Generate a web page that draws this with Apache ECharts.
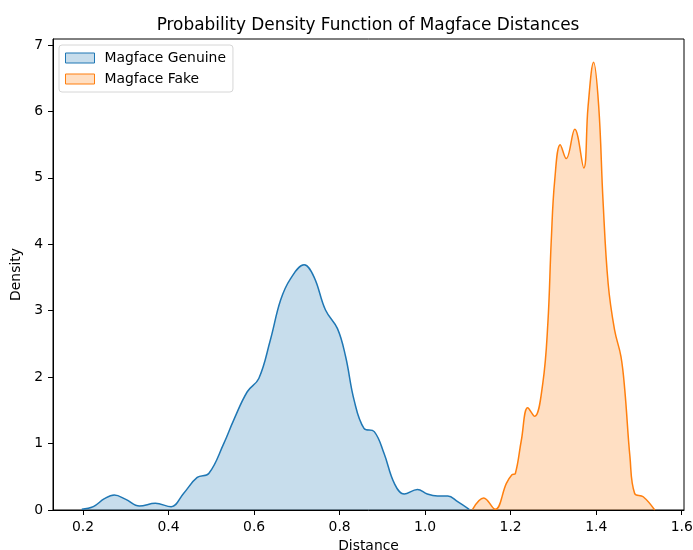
<!DOCTYPE html>
<html>
<head>
<meta charset="utf-8">
<title>Magface Distances</title>
<script src="https://cdn.jsdelivr.net/npm/echarts@6/dist/echarts.min.js"></script>
<style>
	html, body { margin: 0; padding: 0; background: #fff; }
	#main { width: 693px; height: 550px; }
</style>
</head>
<body>
<div id="main"></div>
<script>
// 数据: 密度曲线
var genuineX = [0.197, 0.224, 0.250, 0.273, 0.300, 0.332, 0.369, 0.406, 0.435, 0.467, 0.494, 0.529, 0.552, 0.584, 0.611, 0.638, 0.662, 0.685, 0.717, 0.740, 0.767, 0.795, 0.814, 0.834, 0.857, 0.881, 0.904, 0.928, 0.951, 0.982, 1.005, 1.029, 1.053, 1.076, 1.103];
var genuineY = [0.01, 0.05, 0.17, 0.225, 0.16, 0.06, 0.10, 0.05, 0.25, 0.49, 0.55, 1.00, 1.35, 1.78, 1.98, 2.56, 3.16, 3.48, 3.69, 3.51, 3.01, 2.73, 2.31, 1.65, 1.23, 1.18, 0.85, 0.40, 0.24, 0.31, 0.24, 0.21, 0.21, 0.125, 0.01];

var fakeX = [1.111, 1.137, 1.164, 1.190, 1.203, 1.211, 1.225, 1.240, 1.256, 1.275, 1.287, 1.295, 1.303, 1.316, 1.330, 1.350, 1.371, 1.381, 1.394, 1.406, 1.416, 1.428, 1.443, 1.458, 1.467, 1.479, 1.490, 1.510, 1.537];
var fakeY = [0.01, 0.18, 0.01, 0.40, 0.53, 0.55, 1.05, 1.54, 1.41, 1.90, 2.81, 4.06, 4.96, 5.50, 5.29, 5.73, 5.15, 6.07, 6.74, 6.07, 4.66, 3.41, 2.71, 2.31, 1.80, 0.80, 0.25, 0.20, 0.0];

var xTicks = [0.2, 0.4, 0.6, 0.8, 1.0, 1.2, 1.4, 1.6];
var yTicks = [0, 1, 2, 3, 4, 5, 6, 7];

var seriesNames = ['Magface Genuine', 'Magface Fake'];

// 组合成 [x, y] 点
function toPoints(xs, ys) {
	var result = [];
	for (var i = 0; i < xs.length; i++) {
		result.push([xs[i], ys[i]]);
	}
	return result;
}

var FONT = 'DejaVu Sans';
var chart = echarts.init(document.getElementById('main'), null, { renderer: 'canvas' });

var option = {
	animation: false,
	backgroundColor: '#fff',
	textStyle: { fontFamily: FONT },
	title: {
		text: 'Probability Density Function of Magface Distances',
		left: 363,
		textAlign: 'center',
		top: 12,
		textStyle: { fontFamily: FONT, fontSize: 16.9, fontWeight: 'normal', color: '#000' }
	},
	legend: {
		left: 59,
		top: 45,
		orient: 'vertical',
		itemWidth: 29,
		itemHeight: 10,
		itemGap: 7,
		padding: [6, 7, 6, 6],
		backgroundColor: 'rgba(255,255,255,0.8)',
		borderColor: '#d6d6d6',
		borderWidth: 1,
		borderRadius: 3,
		textStyle: { fontFamily: FONT, fontSize: 13.9, color: '#000', padding: [0, 0, 0, 5] },
		data: [
			{ name: seriesNames[0], icon: 'rect', itemStyle: { color: 'rgba(31,119,180,0.25)', borderColor: '#1f77b4', borderWidth: 1 } },
			{ name: seriesNames[1], icon: 'rect', itemStyle: { color: 'rgba(255,127,14,0.25)', borderColor: '#ff7f0e', borderWidth: 1 } }
		]
	},
	grid: {
		left: 53,
		right: 9,
		top: 39,
		bottom: 40,
		show: true,
		borderColor: '#000',
		borderWidth: 1,
		containLabel: false,
		outerBoundsMode: 'none'
	},
	xAxis: {
		type: 'value',
		min: 0.1297,
		max: 1.6054,
		name: 'Distance',
		nameLocation: 'middle',
		nameGap: 28,
		nameTextStyle: { fontFamily: FONT, fontSize: 13.9, color: '#000' },
		axisLine: { show: true, lineStyle: { color: '#000', width: 1 } },
		axisTick: { show: true, length: 5, customValues: xTicks, lineStyle: { color: '#000' } },
		axisLabel: {
			customValues: xTicks,
			margin: 10,
			fontFamily: FONT,
			fontSize: 13.9,
			color: '#000',
			formatter: function(v) { return v.toFixed(1); }
		},
		splitLine: { show: false }
	},
	yAxis: {
		type: 'value',
		min: 0,
		max: 7.09,
		name: 'Density',
		nameLocation: 'middle',
		nameGap: 26,
		nameRotate: 90,
		nameTextStyle: { fontFamily: FONT, fontSize: 13.9, color: '#000' },
		axisLine: { show: true, lineStyle: { color: '#000', width: 1 } },
		axisTick: { show: true, length: 5, customValues: yTicks, lineStyle: { color: '#000' } },
		axisLabel: {
			customValues: yTicks,
			margin: 10,
			fontFamily: FONT,
			fontSize: 13.9,
			color: '#000'
		},
		splitLine: { show: false }
	},
	series: [
		{
			name: seriesNames[0],
			type: 'line',
			data: toPoints(genuineX, genuineY),
			smooth: 0.4,
			showSymbol: false,
			lineStyle: { color: '#1f77b4', width: 1.5 },
			itemStyle: { color: '#1f77b4' },
			areaStyle: { color: '#1f77b4', opacity: 0.25 }
		},
		{
			name: seriesNames[1],
			type: 'line',
			data: toPoints(fakeX, fakeY),
			smooth: 0.4,
			showSymbol: false,
			lineStyle: { color: '#ff7f0e', width: 1.5 },
			itemStyle: { color: '#ff7f0e' },
			areaStyle: { color: '#ff7f0e', opacity: 0.25 }
		}
	]
};

chart.setOption(option, true);
</script>
</body>
</html>
